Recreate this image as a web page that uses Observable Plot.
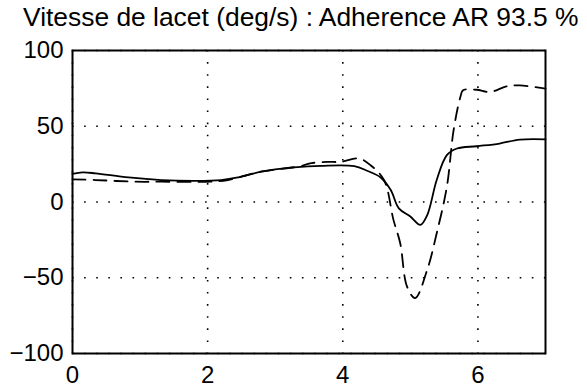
<!DOCTYPE html>
<html>
<head>
<meta charset="utf-8">
<script src="https://cdn.jsdelivr.net/npm/d3@7"></script>
<script src="https://cdn.jsdelivr.net/npm/@observablehq/plot@0.6"></script>
<style>
  html, body { margin: 0; padding: 0; background: #fff; }
  #title { position: relative; height: 36px; font-family: "Liberation Sans", Arial, sans-serif; font-size: 26.4px; color: #000; white-space: nowrap; }
  #title span { position: absolute; left: 23px; top: 4px; line-height: 26px; }
  #chart svg { display: block; overflow: visible; }
</style>
</head>
<body>
<div id="title"><span>Vitesse de lacet (deg/s) : Adherence AR 93.5 %</span></div>
<div id="chart"></div>
<script>
// Solid curve
const solidT = [0, 0.15, 0.34, 0.83, 1.32, 1.81, 2.2, 2.45, 2.79, 3.28, 3.68, 4.17, 4.36, 4.56, 4.71, 4.83, 5.0, 5.15, 5.25, 5.39, 5.54, 5.69, 5.98, 6.32, 6.62, 7.0];
const solidY = [18.5, 19.5, 18.9, 16.2, 14.5, 14, 14.5, 16.2, 20, 22.8, 23.9, 23.7, 20.6, 16.2, 7.9, -4.2, -9.6, -15.1, -8.6, 14.5, 30.9, 35.3, 36.8, 38.6, 41.2, 41.4];
// Dashed curve
const dashT = [0, 0.34, 0.93, 1.32, 2.06, 2.3, 2.79, 3.38, 3.5, 3.77, 3.97, 4.24, 4.41, 4.61, 4.75, 4.85, 4.95, 5.07, 5.25, 5.39, 5.54, 5.64, 5.74, 5.78, 5.98, 6.18, 6.42, 6.62, 7.0];
const dashY = [15, 14.5, 13.4, 13.4, 13.4, 14.5, 20, 23.7, 25.4, 26.5, 26.5, 28.7, 24.3, 14.5, -11.8, -27.2, -55.7, -63.4, -44.7, -20.6, 10, 47.4, 69.3, 73.7, 74.1, 72.6, 76.3, 77, 74.8];
// Ticks
const xTicks = [0, 2, 4, 6];
const yTicks = [-100, -50, 0, 50, 100];

const solid = solidT.map((t, i) => ({t, y: solidY[i]}));
const dashed = dashT.map((t, i) => ({t, y: dashY[i]}));

const chart = Plot.plot({
  width: 587,
  height: 354,
  marginLeft: 72,
  marginRight: 42,
  marginTop: 14,
  marginBottom: 37,
  style: {fontFamily: "'Liberation Sans', Arial, sans-serif", background: "#fff", color: "#000", overflow: "visible"},
  x: {domain: [0, 7]},
  y: {domain: [-100, 100]},
  marks: [
    Plot.gridX(xTicks, {stroke: "#000", strokeOpacity: 1, strokeWidth: 1.6, strokeDasharray: "1.6,10.5"}),
    Plot.gridY(yTicks, {stroke: "#000", strokeOpacity: 1, strokeWidth: 1.6, strokeDasharray: "1.6,10.5"}),
    Plot.axisX(xTicks, {tickSize: 0, tickPadding: 12, fontSize: 24, label: null, tickFormat: d => String(d)}),
    Plot.axisY(yTicks, {tickSize: 0, tickPadding: 9, fontSize: 24, label: null}),
    Plot.line(solid, {x: "t", y: "y", stroke: "#000", strokeWidth: 1.8, curve: "catmull-rom"}),
    Plot.line(dashed, {x: "t", y: "y", stroke: "#000", strokeWidth: 1.8, strokeDasharray: "13,8", curve: "catmull-rom"}),
    Plot.frame({stroke: "#000", strokeWidth: 2})
  ]
});
document.getElementById("chart").appendChild(chart);
</script>
</body>
</html>
